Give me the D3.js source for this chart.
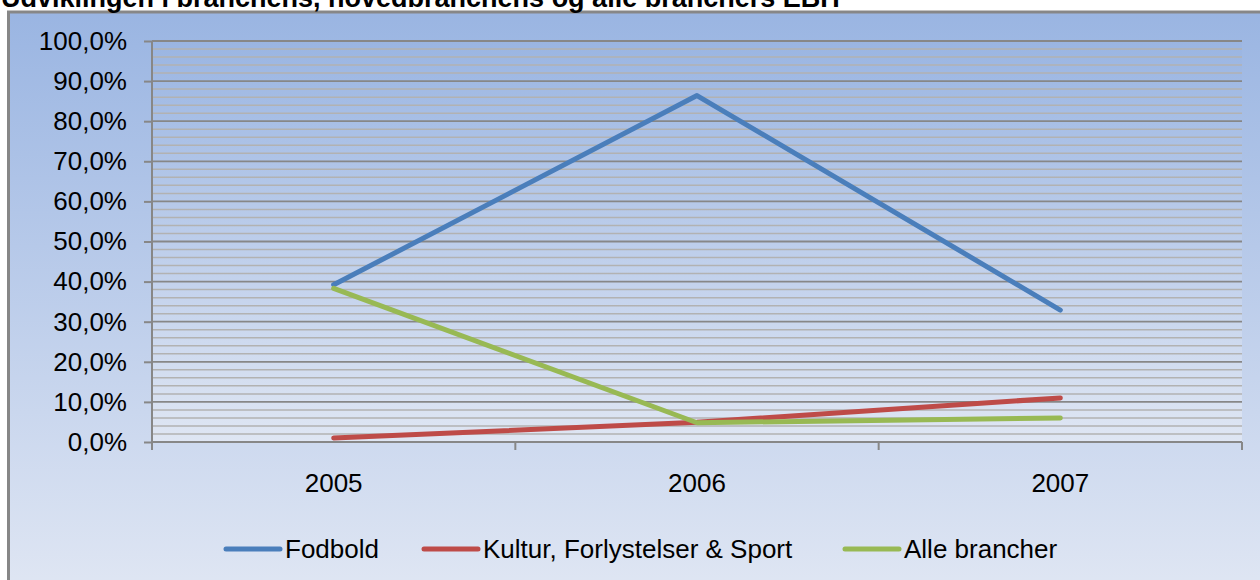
<!DOCTYPE html>
<html>
<head>
<meta charset="utf-8">
<script src="https://cdn.jsdelivr.net/npm/d3@7"></script>
<style>
html,body{margin:0;padding:0;background:#fff;}
svg{display:block;font-family:Arial,"Liberation Sans",sans-serif;}
</style>
</head>
<body>
<svg id="chart" width="1260" height="580"></svg>
<script>
const title = "Udviklingen i branchens, hovedbranchens og alle branchers EBIT";
const categories = ["2005", "2006", "2007"];
const seriesNames = ["Fodbold", "Kultur, Forlystelser & Sport", "Alle brancher"];
const fodbold = [0.392, 0.864, 0.329];
const kultur = [0.010, 0.049, 0.110];
const alleBrancher = [0.383, 0.048, 0.060];
const yTicks = [0, 0.1, 0.2, 0.3, 0.4, 0.5, 0.6, 0.7, 0.8, 0.9, 1.0];
const yMinorTicks = d3.range(0, 101, 2).map(v => v / 100);
const colors = ["#4a7ebb", "#be4b48", "#98b954"];

(function () {
const series = [fodbold, kultur, alleBrancher];
const svg = d3.select("#chart");
const defs = svg.append("defs");

const g1 = defs.append("linearGradient").attr("id", "bgGrad").attr("x1", 0).attr("y1", 0).attr("x2", 0).attr("y2", 1);
g1.append("stop").attr("offset", "0%").attr("stop-color", "#9ab5e2");
g1.append("stop").attr("offset", "100%").attr("stop-color", "#e2e8f4");
const g2 = defs.append("linearGradient").attr("id", "plotGrad").attr("x1", 0).attr("y1", 0).attr("x2", 0).attr("y2", 1);
g2.append("stop").attr("offset", "0%").attr("stop-color", "#9ab5e2");
g2.append("stop").attr("offset", "100%").attr("stop-color", "#dfe6f3");

// outer chart box
svg.append("rect").attr("x", 8.5).attr("y", 12).attr("width", 1262).attr("height", 600)
  .attr("fill", "url(#bgGrad)").attr("stroke", "#878787").attr("stroke-width", 3);

// title (cut at the top edge, as in the reference)
svg.append("text").attr("x", 1).attr("y", 7).attr("font-size", 27).attr("font-weight", "bold")
  .attr("fill", "#000").text(title);

const pl = 152, pr = 1242, pt = 41, pb = 442;
const x = d3.scaleBand().domain(categories).range([pl, pr]).paddingInner(0).paddingOuter(0);
const y = d3.scaleLinear().domain([0, 1]).range([pb, pt]);

svg.append("rect").attr("x", pl).attr("y", pt).attr("width", pr - pl).attr("height", pb - pt)
  .attr("fill", "url(#plotGrad)");

// minor gridlines
svg.append("g").selectAll("line").data(yMinorTicks.filter(v => Math.round(v * 100) % 10 !== 0))
  .join("line")
  .attr("x1", pl).attr("x2", pr)
  .attr("y1", d => y(d)).attr("y2", d => y(d))
  .attr("stroke", "#b2b2b2").attr("stroke-width", 1.5);

// major gridlines
svg.append("g").selectAll("line").data(yTicks.filter(v => v > 0))
  .join("line")
  .attr("x1", pl).attr("x2", pr)
  .attr("y1", d => y(d)).attr("y2", d => y(d))
  .attr("stroke", "#878787").attr("stroke-width", 1.8);

// y axis
const fmt = v => d3.format(".1f")(v * 100).replace(".", ",") + "%";
const yAxis = svg.append("g").attr("transform", `translate(${pl},0)`)
  .call(d3.axisLeft(y).tickValues(yTicks).tickFormat(fmt).tickSize(8).tickPadding(17));
yAxis.select(".domain").attr("stroke", "#878787").attr("stroke-width", 2).attr("d", `M0,${pt}V${pb}`);
yAxis.selectAll(".tick line").attr("stroke", "#878787").attr("stroke-width", 2);
yAxis.selectAll(".tick text").attr("font-size", 26).attr("fill", "#000")
  .attr("font-family", "Arial, 'Liberation Sans', sans-serif");

// x axis
const xAxis = svg.append("g").attr("transform", `translate(0,${pb})`)
  .call(d3.axisBottom(x).tickSize(0).tickPadding(0));
xAxis.select(".domain").attr("stroke", "#878787").attr("stroke-width", 2).attr("d", `M${pl},0H${pr}`);
xAxis.selectAll(".tick text").attr("font-size", 26).attr("fill", "#000").attr("dy", null).attr("y", 50)
  .attr("font-family", "Arial, 'Liberation Sans', sans-serif");
const bounds = categories.map(c => x(c)).concat([pr]);
xAxis.selectAll("line.bound").data(bounds).join("line").attr("class", "bound")
  .attr("x1", d => d).attr("x2", d => d).attr("y1", 0).attr("y2", 8)
  .attr("stroke", "#878787").attr("stroke-width", 2);

// lines
const line = d3.line().x((d, i) => x(categories[i]) + x.bandwidth() / 2).y(d => y(d));
svg.append("g").selectAll("path").data(series).join("path")
  .attr("d", d => line(d))
  .attr("fill", "none")
  .attr("stroke", (d, i) => colors[i])
  .attr("stroke-width", 5)
  .attr("stroke-linecap", "round")
  .attr("stroke-linejoin", "round");

// legend
const legendX = [226, 424, 845];
const lg = svg.append("g");
seriesNames.forEach((name, i) => {
  lg.append("line").attr("x1", legendX[i]).attr("x2", legendX[i] + 54).attr("y1", 549).attr("y2", 549)
    .attr("stroke", colors[i]).attr("stroke-width", 5).attr("stroke-linecap", "round");
  lg.append("text").attr("x", legendX[i] + 59).attr("y", 558).attr("font-size", 26).attr("fill", "#000").text(name);
});
})();
</script>
</body>
</html>
